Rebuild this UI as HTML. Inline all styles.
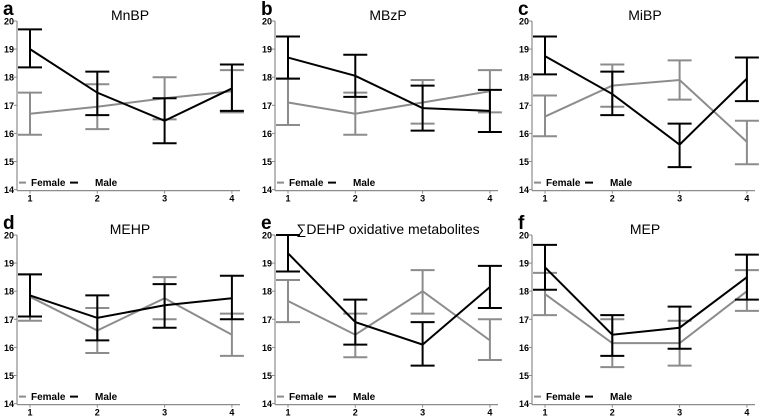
<!DOCTYPE html>
<html><head><meta charset="utf-8">
<style>
body{margin:0;background:#fff;}
svg{display:block;font-family:"Liberation Sans",sans-serif;}
</style></head>
<body>
<svg id="chart" width="778" height="419" viewBox="0 0 778 419"></svg>
<script>
const panelLetters = ["a","b","c","d","e","f"];
const panelTitles = ["MnBP","MBzP","MiBP","MEHP","\u2211DEHP oxidative metabolites","MEP"];
const categories = [1,2,3,4];
const yTicks = [14,15,16,17,18,19,20];
const maleMean = [[19.0,17.45,16.45,17.6],[18.7,18.05,16.9,16.8],[18.75,17.4,15.6,17.95],[17.85,17.05,17.5,17.75],[19.35,16.9,16.1,18.15],[18.85,16.45,16.7,18.5]];
const maleLow  = [[18.35,16.65,15.65,16.8],[17.95,17.3,16.1,16.05],[18.1,16.65,14.8,17.15],[17.1,16.25,16.7,17.0],[18.7,16.1,15.35,17.4],[18.05,15.7,15.95,17.7]];
const maleHigh = [[19.7,18.2,17.25,18.45],[19.45,18.8,17.7,17.55],[19.45,18.2,16.35,18.7],[18.6,17.85,18.25,18.55],[20.0,17.7,16.9,18.9],[19.65,17.15,17.45,19.3]];
const femMean  = [[16.7,16.95,17.25,17.5],[17.1,16.7,17.1,17.5],[16.6,17.7,17.9,15.7],[17.8,16.6,17.75,16.45],[17.65,16.45,18.0,16.25],[17.9,16.15,16.15,18.0]];
const femLow   = [[15.95,16.15,16.5,16.75],[16.3,15.95,16.35,16.75],[15.9,16.95,17.2,14.9],[16.95,15.8,17.0,15.7],[16.9,15.65,17.2,15.55],[17.15,15.3,15.35,17.3]];
const femHigh  = [[17.45,17.75,18.0,18.25],[17.95,17.45,17.9,18.25],[17.35,18.45,18.6,16.45],[18.6,17.4,18.5,17.2],[18.4,17.2,18.75,17.0],[18.65,17.0,16.95,18.75]];

const NS="http://www.w3.org/2000/svg";
const svg=document.getElementById("chart");
const colOff=[0,258,515], rowOff=[0,214];
const GREY="#8c8c8c";
function mk(tag,attrs,parent){const e=document.createElementNS(NS,tag);for(const k in attrs)e.setAttribute(k,attrs[k]);(parent||svg).appendChild(e);return e;}

for(let p=0;p<6;p++){
  const ox=colOff[p%3], oy=rowOff[Math.floor(p/3)];
  const g=mk("g",{});
  
  
  const xS=c=>ox+30+(c-1)*67.3;
  const yS=v=>oy+21+(20-v)*28.1;
  const axisX=ox+17;
  let t=mk("text",{x:ox+3,y:oy+15,"font-size":19,"font-weight":"bold",fill:"#000"},g);t.textContent=panelLetters[p];
  
  t=mk("text",{x:ox+130,y:oy+20,"font-size":14,"text-anchor":"middle",fill:"#000"},g);t.textContent=panelTitles[p];
  
  let a=mk("line",{x1:axisX,y1:yS(20),x2:axisX,y2:yS(14)+1,stroke:GREY,"stroke-width":1.2},g);
  
  a=mk("line",{x1:axisX,y1:yS(14)+1,x2:ox+240,y2:yS(14)+1,stroke:GREY,"stroke-width":1.2},g);
  
  yTicks.forEach(v=>{
    mk("line",{x1:axisX-3,y1:yS(v),x2:axisX,y2:yS(v),stroke:GREY,"stroke-width":1},g);
    const tl=mk("text",{x:axisX-3,y:yS(v)+3.5,"font-size":9,"font-weight":"bold","text-anchor":"end",fill:"#000"},g);
    tl.textContent=v;
    
  });
  categories.forEach(c=>{
    mk("line",{x1:xS(c),y1:yS(14)+1,x2:xS(c),y2:yS(14)+4,stroke:GREY,"stroke-width":1},g);
    const tl=mk("text",{x:xS(c),y:yS(14)+12,"font-size":9,"font-weight":"bold","text-anchor":"middle",fill:"#000"},g);
    tl.textContent=c;
    
  });
  const series=[[femMean[p],femLow[p],femHigh[p],GREY,"female"],[maleMean[p],maleLow[p],maleHigh[p],"#000","male"]];
  series.forEach(([m,lo,hi,col,nm])=>{
    const pl=mk("polyline",{points:categories.map((c,i)=>xS(c)+","+yS(m[i])).join(" "),fill:"none",stroke:col,"stroke-width":2},g);
    
    categories.forEach((c,i)=>{
      const eg=mk("g",{stroke:col,"stroke-width":2},g);
      
      mk("line",{x1:xS(c),y1:yS(lo[i]),x2:xS(c),y2:yS(hi[i])},eg);
      mk("line",{x1:xS(c)-12,y1:yS(lo[i]),x2:xS(c)+12,y2:yS(lo[i])},eg);
      mk("line",{x1:xS(c)-12,y1:yS(hi[i]),x2:xS(c)+12,y2:yS(hi[i])},eg);
    });
  });
  const lg=mk("g",{},g);
  
  const ly=yS(14)-7;
  mk("line",{x1:ox+19,y1:ly,x2:ox+26,y2:ly,stroke:GREY,"stroke-width":2},lg);
  let lt=mk("text",{x:ox+31,y:ly+3.5,"font-size":10,"font-weight":"bold",fill:"#000"},lg);lt.textContent="Female";
  
  mk("line",{x1:ox+70,y1:ly,x2:ox+78,y2:ly,stroke:"#000","stroke-width":2},lg);
  lt=mk("text",{x:ox+95,y:ly+3.5,"font-size":10,"font-weight":"bold",fill:"#000"},lg);lt.textContent="Male";
  
}
</script>
</body></html>
